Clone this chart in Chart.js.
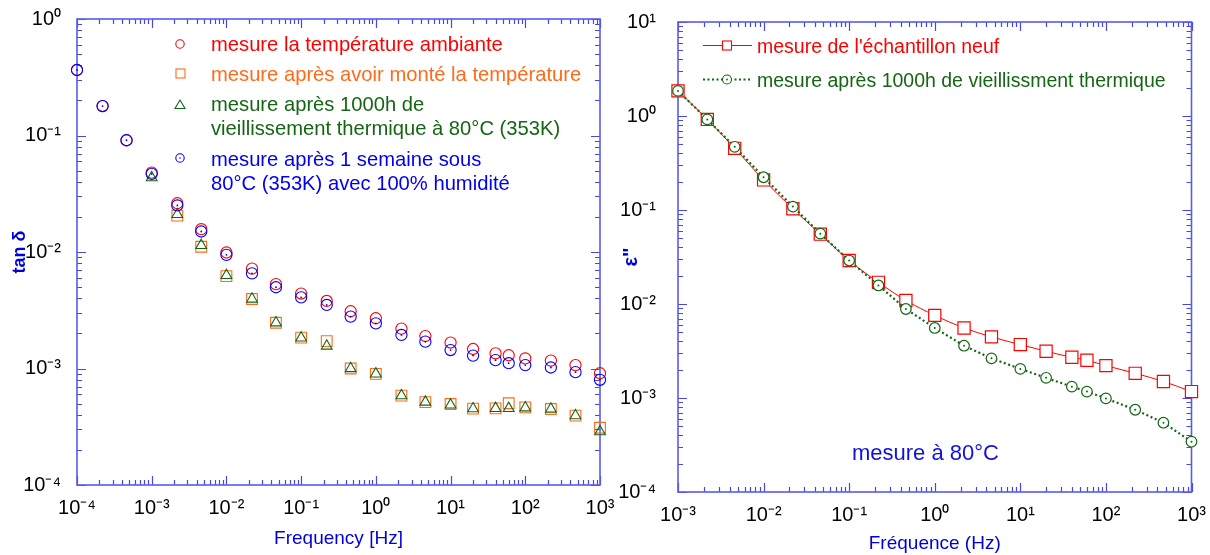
<!DOCTYPE html>
<html>
<head>
<meta charset="utf-8">
<script src="https://cdn.jsdelivr.net/npm/chart.js@4.4.1/dist/chart.umd.min.js"></script>
<style>
  html, body { margin: 0; padding: 0; background: #fff; }
  #wrap { position: relative; width: 1210px; height: 555px; overflow: hidden; font-family: "Liberation Sans", Arial, sans-serif; }
  canvas { position: absolute; top: 0; }
  #c1 { left: 0; }
  #c2 { left: 610px; }
  .lg { position: absolute; font-size: 19.5px; line-height: 24px; white-space: nowrap; }
  .lgl { font-size: 20.2px; }
  .mk { position: absolute; overflow: visible; }
</style>
</head>
<body>
<div id="wrap">
  <canvas id="c1" width="625" height="555"></canvas>
  <canvas id="c2" width="600" height="555"></canvas>

  <!-- left legend -->
  <svg class="mk" style="left:0;top:0" width="610" height="200">
    <circle cx="180" cy="44" r="4.2" fill="none" stroke="#ff0000" stroke-width="1.1"/>
    <rect x="176" y="69" width="9" height="9" fill="none" stroke="#ff6a1a" stroke-width="1.1"/>
    <polygon points="180,100 185,108.5 175,108.5" fill="none" stroke="#146614" stroke-width="1.1"/>
    <circle cx="180" cy="158" r="4.2" fill="none" stroke="#0000ff" stroke-width="1.1"/>
    <circle cx="180" cy="158" r="0.8" fill="#0000ff"/>
  </svg>
  <div class="lg lgl" style="left:211px;top:32px;color:#ff0000">mesure la température ambiante</div>
  <div class="lg lgl" style="left:211px;top:62px;color:#ff6a1a">mesure après avoir monté la température</div>
  <div class="lg lgl" style="left:211px;top:92px;color:#146614">mesure après 1000h de<br>vieillissement thermique à 80°C (353K)</div>
  <div class="lg lgl" style="left:211px;top:147px;color:#0000ee">mesure après 1 semaine sous<br>80°C (353K) avec 100% humidité</div>

  <!-- right legend -->
  <svg class="mk" style="left:0;top:0" width="1210" height="120">
    <line x1="703" y1="45.5" x2="752" y2="45.5" stroke="#ff0000" stroke-width="1"/>
    <rect x="722.5" y="41" width="9" height="9" fill="#fff" stroke="#ff0000" stroke-width="1.1"/>
    <line x1="703" y1="79.5" x2="752" y2="79.5" stroke="#146614" stroke-width="2" stroke-dasharray="2 2.5"/>
    <circle cx="727" cy="79.5" r="4.5" fill="#fff" stroke="#146614" stroke-width="1.1"/>
    <circle cx="727" cy="79.5" r="0.9" fill="#146614"/>
  </svg>
  <div class="lg" style="left:757px;top:34px;color:#ff0000">mesure de l'échantillon neuf</div>
  <div class="lg" style="left:757px;top:68px;color:#146614">mesure après 1000h de vieillissment thermique</div>
  <div class="lg" style="left:852px;top:439px;color:#1010e0;font-size:22px;line-height:28px">mesure à 80°C</div>
</div>

<script>
// ---------------- data ----------------
const freqLeft = [1e-4, 2.2e-4, 4.6e-4, 1e-3, 2.2e-3, 4.6e-3, 1e-2, 2.2e-2, 4.6e-2, 0.1, 0.22, 0.46,
                  1, 2.2, 4.6, 10, 20, 40, 60, 100, 220, 470, 1000];
const tanRoom   = [0.365, 0.179, 0.091, 0.048, 0.0262, 0.0157, 0.0099, 0.0072, 0.0053, 0.0044, 0.0038, 0.0031,
                   0.0027, 0.0022, 0.0019, 0.00167, 0.00147, 0.00135, 0.0013, 0.00122, 0.00117, 0.00107, 0.00091];
const tanHeated = [null, null, null, null, 0.0205, 0.0111, 0.0062, 0.00395, 0.00247, 0.00184, 0.00172, 0.00100,
                   0.00090, 0.000585, 0.000515, 0.000496, 0.000452, 0.000455, 0.000503, 0.000464, 0.000449, 0.000394, 0.00031];
const tanAged   = [null, null, null, 0.0435, 0.0210, 0.0114, 0.0063, 0.00395, 0.00247, 0.00183, 0.00156, 0.00100,
                   0.00090, 0.000585, 0.000515, 0.000487, 0.000452, 0.000455, 0.000455, 0.00046, 0.000449, 0.000394, 0.000287];
const tanHumid  = [0.365, 0.179, 0.091, 0.0468, 0.0251, 0.0150, 0.00945, 0.00656, 0.00498, 0.00408, 0.00351, 0.00279,
                   0.00244, 0.00194, 0.0017, 0.00144, 0.00129, 0.00118, 0.00111, 0.00107, 0.00102, 0.00093, 0.00080];

const freqRight = [1e-3, 2.2e-3, 4.6e-3, 1e-2, 2.2e-2, 4.6e-2, 0.1, 0.22, 0.46, 1, 2.2, 4.6,
                   10, 20, 40, 60, 100, 220, 470, 1000];
const epsNew  = [1.85, 0.92, 0.453, 0.209, 0.103, 0.0553, 0.029, 0.017, 0.0109, 0.00757, 0.00556, 0.00447,
                 0.0037, 0.00314, 0.00271, 0.00252, 0.00221, 0.00183, 0.0015, 0.00117];
const epsAged = [1.85, 0.92, 0.47, 0.223, 0.1087, 0.056, 0.029, 0.01575, 0.00885, 0.00556, 0.0036, 0.00264,
                 0.00204, 0.00164, 0.00132, 0.00117, 0.00099, 0.00075, 0.000546, 0.000343];

const leftXTickLabels  = ['10⁻⁴', '10⁻³', '10⁻²', '10⁻¹', '10⁰', '10¹', '10²', '10³'];
const leftYTickLabels  = ['10⁻⁴', '10⁻³', '10⁻²', '10⁻¹', '10⁰'];
const rightXTickLabels = ['10⁻³', '10⁻²', '10⁻¹', '10⁰', '10¹', '10²', '10³'];
const rightYTickLabels = ['10⁻⁴', '10⁻³', '10⁻²', '10⁻¹', '10⁰', '10¹'];

// ---------------- helpers ----------------
const FONT = '"Liberation Sans", Arial, sans-serif';
const AXIS_BLUE = '#4646e6';
const pts = (xs, ys) => xs.map((x, i) => ({x, y: ys[i]}));
const isMajor = v => Math.abs(Math.log10(v) - Math.round(Math.log10(v))) < 1e-6;

function logTicks(scale) {
  const e0 = Math.round(Math.log10(scale.min)), e1 = Math.round(Math.log10(scale.max));
  const t = [];
  for (let e = e0; e < e1; e++) for (let k = 1; k <= 9; k++) t.push({value: k * Math.pow(10, e)});
  t.push({value: Math.pow(10, e1)});
  scale.ticks = t;
}
function labeller(labels) {
  return function (value) {
    if (!isMajor(value)) return '';
    const e0 = Math.round(Math.log10(this.min));
    return labels[Math.round(Math.log10(value)) - e0] || '';
  };
}

const inwardTicks = {
  id: 'inwardTicks',
  beforeDatasetsDraw(chart) {
    const {ctx, chartArea: a, scales: {x, y}} = chart;
    ctx.save();
    ctx.strokeStyle = AXIS_BLUE;
    ctx.lineWidth = 1.2;
    ctx.beginPath();
    x.ticks.forEach(t => {
      const px = Math.round(x.getPixelForValue(t.value)) + 0.5;
      const len = isMajor(t.value) ? 9 : 5;
      ctx.moveTo(px, a.bottom); ctx.lineTo(px, a.bottom - len);
      ctx.moveTo(px, a.top); ctx.lineTo(px, a.top + len);
    });
    y.ticks.forEach(t => {
      const py = Math.round(y.getPixelForValue(t.value)) + 0.5;
      const len = isMajor(t.value) ? 9 : 5;
      ctx.moveTo(a.left, py); ctx.lineTo(a.left + len, py);
      ctx.moveTo(a.right, py); ctx.lineTo(a.right - len, py);
    });
    ctx.stroke();
    ctx.lineWidth = 1.6;
    ctx.strokeStyle = '#5a5aee';
    ctx.strokeRect(a.left, a.top, a.right - a.left, a.bottom - a.top);
    ctx.restore();
  }
};

function axis(opts) {
  return {
    type: 'logarithmic',
    position: opts.position,
    min: opts.min, max: opts.max,
    afterBuildTicks: logTicks,
    afterFit: s => {
      if (opts.width !== undefined) s.width = opts.width;
      if (opts.height !== undefined) s.height = opts.height;
      s.paddingLeft = s.paddingRight = s.paddingTop = s.paddingBottom = 0;
    },
    grid: {display: false, drawTicks: false},
    border: {display: false},
    ticks: {
      autoSkip: false, maxRotation: 0, minRotation: 0,
      padding: opts.tickPad,
      color: '#000',
      font: {family: FONT, size: 20},
      callback: labeller(opts.labels)
    },
    title: {
      display: true, text: opts.title, color: '#0000dd',
      font: {family: FONT, size: opts.titleSize, weight: opts.titleWeight || 'normal'},
      padding: opts.titlePad
    }
  };
}

const common = {
  responsive: false, maintainAspectRatio: false, animation: false, devicePixelRatio: 1,
  plugins: {legend: {display: false}, tooltip: {enabled: false}}
};

// ---------------- left chart ----------------
const mk = (label, data, style, color, r, extra) => Object.assign({
  label, data, showLine: false, pointStyle: style, pointRadius: r,
  pointBorderColor: color, pointBackgroundColor: 'rgba(0,0,0,0)', pointBorderWidth: 1.1,
  borderColor: color, clip: false
}, extra || {});

new Chart(document.getElementById('c1'), {
  type: 'scatter',
  data: {
    datasets: [
      mk('dots', pts(freqLeft, tanHumid), 'circle', '#0000ff', 0.9, {pointBackgroundColor: '#0000ff', pointBorderWidth: 0}),
      mk('mesure après 1 semaine sous 80°C (353K) avec 100% humidité', pts(freqLeft, tanHumid), 'circle', '#0000ff', 5.6),
      mk('mesure après 1000h de vieillissement thermique à 80°C (353K)', pts(freqLeft, tanAged), 'triangle', '#146614', 6.2),
      mk('mesure après avoir monté la température', pts(freqLeft, tanHeated), 'rect', '#ff6a1a', 7.6),
      mk('mesure la température ambiante', pts(freqLeft, tanRoom), 'circle', '#ff0000', 5.6)
    ]
  },
  options: Object.assign({}, common, {
    layout: {padding: {left: 0, top: 19, right: 25, bottom: 0}},
    scales: {
      x: axis({position: 'bottom', min: 1e-4, max: 1e3, height: 70, tickPad: 11, labels: leftXTickLabels,
               title: 'Frequency [Hz]', titleSize: 19, titlePad: {top: 0, bottom: 5}}),
      y: axis({position: 'left', min: 1e-4, max: 1, width: 77, tickPad: 16, labels: leftYTickLabels,
               title: 'tan δ', titleSize: 18, titleWeight: 'bold', titlePad: {top: 9, bottom: 0}})
    }
  }),
  plugins: [inwardTicks]
});

// ---------------- right chart ----------------
new Chart(document.getElementById('c2'), {
  type: 'scatter',
  data: {
    datasets: [
      mk('dots', pts(freqRight, epsAged), 'circle', '#146614', 1, {pointBackgroundColor: '#146614', pointBorderWidth: 0}),
      mk('mesure après 1000h de vieillissment thermique', pts(freqRight, epsAged), 'circle', '#146614', 5.3,
         {showLine: true, borderWidth: 2.2, borderDash: [2, 2.6], pointBackgroundColor: '#ffffff', pointBorderWidth: 1.2}),
      mk("mesure de l'échantillon neuf", pts(freqRight, epsNew), 'rect', '#ff0000', 8.6,
         {showLine: true, borderWidth: 1, tension: 0.4, cubicInterpolationMode: 'monotone', pointBackgroundColor: '#ffffff', pointBorderWidth: 1.2})
    ]
  },
  options: Object.assign({}, common, {
    layout: {padding: {left: 0, top: 22, right: 18.5, bottom: 0}},
    scales: {
      x: axis({position: 'bottom', min: 1e-3, max: 1e3, height: 63, tickPad: 11, labels: rightXTickLabels,
               title: 'Fréquence (Hz)', titleSize: 19, titlePad: {top: 0, bottom: 0}}),
      y: axis({position: 'left', min: 1e-4, max: 10, width: 68, tickPad: 22, labels: rightYTickLabels,
               title: 'ε"', titleSize: 20, titleWeight: 'bold', titlePad: {top: 9, bottom: 0}})
    }
  }),
  plugins: [inwardTicks]
});
</script>
</body>
</html>
